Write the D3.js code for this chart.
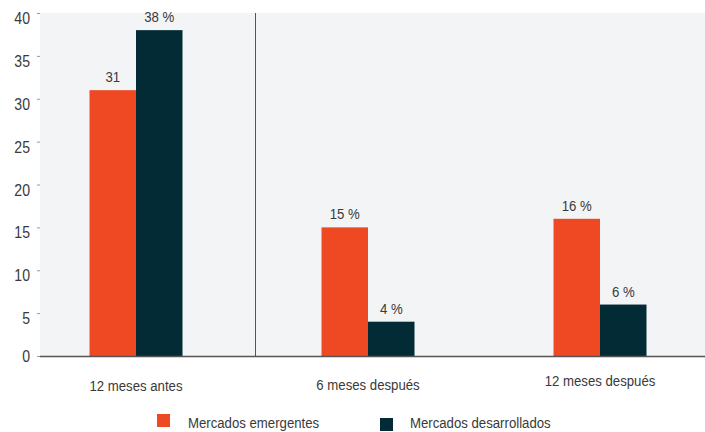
<!DOCTYPE html>
<html>
<head>
<meta charset="utf-8">
<script src="https://cdn.jsdelivr.net/npm/d3@7"></script>
<style>
body { margin: 0; background: #fff; }
svg text { font-family: "Liberation Sans", Arial, sans-serif; fill: #3a3a3a; }
</style>
</head>
<body>
<div id="viz"></div>
<script>
var w = 705;
var h = 432;

var categories = ["12 meses antes", "6 meses después", "12 meses después"];
var series = ["Mercados emergentes", "Mercados desarrollados"];
var emergentes = [31, 15, 16];
var desarrollados = [38, 4, 6];
var labelsEm = ["31", "15 %", "16 %"];
var labelsDes = ["38 %", "4 %", "6 %"];
var yTicks = [0, 5, 10, 15, 20, 25, 30, 35, 40];

var colors = ["#ef4923", "#022b35"];
var narrow = 0.88; // squeeze text to look like Arial Narrow

var svg = d3.select("#viz")
    .append("svg")
    .attr("width", w)
    .attr("height", h);

var x = d3.scaleBand().domain(categories).range([20, 716]);
var inner = d3.scaleBand().domain(series).range([x.bandwidth() / 2 - 46.5, x.bandwidth() / 2 + 46.5]);
var y = d3.scaleLinear().domain([0, 40]).range([356, 13]);

function place(sel, fx, fy) {
    sel.attr("transform", function(d, i) {
        return "translate(" + fx(d, i) + "," + fy(d, i) + ") scale(" + narrow + ",1)";
    });
}

// plot background
svg.append("rect")
    .attr("x", 40).attr("y", y(40))
    .attr("width", w - 40).attr("height", y(0) - y(40))
    .attr("fill", "#f3f4f6");

// y axis ticks + labels
var yAxis = svg.append("g");
yAxis.selectAll("line").data(yTicks).enter().append("line")
    .attr("x1", 37).attr("x2", 40)
    .attr("y1", function(d) { return y(d) + 0.5; })
    .attr("y2", function(d) { return y(d) + 0.5; })
    .attr("stroke", "#999");
yAxis.selectAll("text").data(yTicks).enter().append("text")
    .attr("text-anchor", "end")
    .style("font-size", "16px")
    .text(function(d) { return d; })
    .call(place, function() { return 30; },
          function(d) { return y(d) + (d === 0 ? 6 : 11); });

// divider after first group
svg.append("line")
    .attr("x1", 255.5).attr("x2", 255.5)
    .attr("y1", y(40)).attr("y2", y(0))
    .attr("stroke", "#555").attr("stroke-width", 1);

var rows = categories.map(function(c, i) {
    return { cat: c, vals: [emergentes[i], desarrollados[i]], labels: [labelsEm[i], labelsDes[i]] };
});

var groups = svg.selectAll("g.grp").data(rows).enter().append("g")
    .attr("class", "grp")
    .attr("transform", function(d) { return "translate(" + x(d.cat) + ",0)"; });

function items(d) {
    return d.vals.map(function(v, j) { return { s: series[j], v: v, label: d.labels[j], j: j }; });
}

groups.selectAll("rect").data(items).enter().append("rect")
    .attr("x", function(d) { return inner(d.s); })
    .attr("y", function(d) { return y(d.v); })
    .attr("width", inner.bandwidth())
    .attr("height", function(d) { return y(0) - y(d.v); })
    .attr("fill", function(d) { return colors[d.j]; });

groups.selectAll("text").data(items).enter().append("text")
    .attr("text-anchor", "middle")
    .style("font-size", "15px")
    .text(function(d) { return d.label; })
    .call(place, function(d) { return inner(d.s) + inner.bandwidth() / 2; },
          function(d) { return y(d.v) - 8; });

// x axis line
svg.append("line")
    .attr("x1", 40).attr("x2", w)
    .attr("y1", y(0) + 0.5).attr("y2", y(0) + 0.5)
    .attr("stroke", "#555").attr("stroke-width", 1.5);

// category labels
var catY = [391, 390, 386];
svg.selectAll("text.cat").data(categories).enter().append("text")
    .attr("class", "cat")
    .attr("text-anchor", "middle")
    .style("font-size", "15px")
    .text(function(d) { return d; })
    .call(place, function(d) { return x(d) + x.bandwidth() / 2; },
          function(d, i) { return catY[i]; });

// legend
var legendPos = [[157, 414, 188, 428], [380, 418, 410, 428]];
var legend = svg.selectAll("g.leg").data(series).enter().append("g").attr("class", "leg");
legend.append("rect")
    .attr("x", function(d, i) { return legendPos[i][0]; })
    .attr("y", function(d, i) { return legendPos[i][1]; })
    .attr("width", 13).attr("height", 13)
    .attr("fill", function(d, i) { return colors[i]; });
legend.append("text")
    .style("font-size", "15px")
    .text(function(d) { return d; })
    .call(place, function(d, i) { return legendPos[i][2]; },
          function(d, i) { return legendPos[i][3]; });
</script>
</body>
</html>
